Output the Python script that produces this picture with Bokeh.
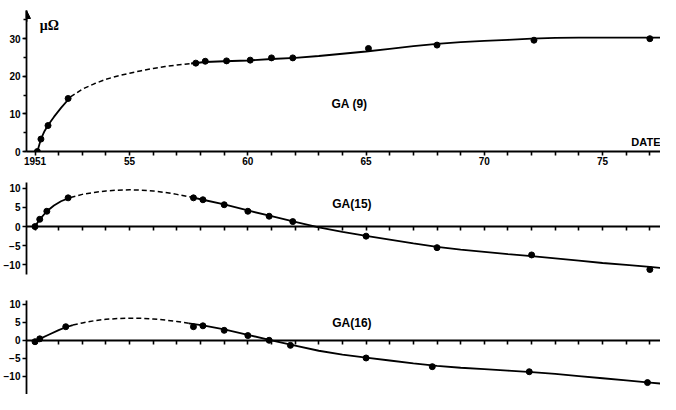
from bokeh.plotting import figure
from bokeh.layouts import column
from bokeh.models import (Range1d, FixedTicker, SingleIntervalTicker, Label, Arrow,
                          NormalHead, LinearAxis)
from bokeh.embed import file_html
from bokeh.resources import INLINE

# ---------------- data ----------------
years_axis = list(range(1951, 1978))
x_major = [1951, 1955, 1960, 1965, 1970, 1975]
x_tick_labels = ["1951", "55", "60", "65", "70", "75"]

# GA (9)
ga9_year = [1951.1, 1951.25, 1951.55, 1952.4, 1957.8, 1958.2, 1959.1, 1960.1, 1961.0, 1961.9, 1965.1, 1968.0, 1972.1, 1977.0]
ga9_val = [0.0, 3.3, 6.9, 14.1, 23.5, 24.0, 24.1, 24.3, 24.9, 24.9, 27.4, 28.3, 29.6, 30.0]
ga9_fit1_x = [1951.1, 1951.25, 1951.4, 1951.55, 1951.8, 1952.1, 1952.5]
ga9_fit1_y = [0.0, 3.3, 5.4, 7.0, 9.2, 11.6, 14.5]
ga9_dash_x = [1952.5, 1953.0, 1953.5, 1954.0, 1954.5, 1955.0, 1955.5, 1956.0, 1956.5, 1957.0, 1957.6]
ga9_dash_y = [14.5, 16.6, 18.0, 19.2, 20.1, 20.8, 21.5, 22.1, 22.6, 23.0, 23.4]
ga9_fit2_x = [1957.6, 1958.2, 1959, 1960, 1961, 1962, 1963, 1964, 1965, 1966, 1967, 1968, 1969, 1970, 1971, 1972, 1973, 1974, 1975, 1976, 1977.5]
ga9_fit2_y = [23.4, 23.8, 24.0, 24.2, 24.6, 24.9, 25.4, 26.0, 26.6, 27.3, 28.0, 28.6, 29.1, 29.4, 29.7, 30.0, 30.2, 30.3, 30.3, 30.3, 30.3]

# GA (15)
ga15_year = [1951.0, 1951.2, 1951.5, 1952.4, 1957.7, 1958.1, 1959.0, 1960.0, 1960.9, 1961.9, 1965.0, 1968.0, 1972.0, 1977.0]
ga15_val = [0.0, 1.9, 4.0, 7.5, 7.5, 7.0, 5.7, 4.0, 2.7, 1.3, -2.5, -5.5, -7.4, -11.2]
ga15_fit1_x = [1951.0, 1951.2, 1951.5, 1951.8, 1952.1, 1952.5]
ga15_fit1_y = [0.0, 1.9, 4.0, 5.5, 6.6, 7.6]
ga15_dash_x = [1952.5, 1953.0, 1953.5, 1954.0, 1954.5, 1955.0, 1955.5, 1956.0, 1956.5, 1957.0, 1957.6]
ga15_dash_y = [7.6, 8.4, 8.9, 9.3, 9.5, 9.6, 9.5, 9.3, 8.9, 8.4, 7.7]
ga15_fit2_x = [1957.6, 1958.1, 1959, 1960, 1961, 1962, 1963, 1964, 1965, 1966, 1967, 1968, 1969, 1970, 1971, 1972, 1973, 1974, 1975, 1976, 1977, 1977.5]
ga15_fit2_y = [7.7, 7.0, 5.8, 4.2, 2.7, 1.2, -0.2, -1.4, -2.4, -3.4, -4.4, -5.3, -6.0, -6.6, -7.2, -7.7, -8.3, -8.9, -9.5, -10.0, -10.5, -10.8]

# GA (16)
ga16_year = [1951.0, 1951.2, 1952.3, 1957.7, 1958.1, 1959.0, 1960.0, 1960.9, 1961.8, 1965.0, 1967.8, 1971.9, 1976.9]
ga16_val = [-0.4, 0.4, 3.75, 3.75, 4.0, 2.75, 1.3, 0.0, -1.4, -4.9, -7.3, -8.7, -11.7]
ga16_fit1_x = [1951.0, 1951.2, 1951.6, 1952.0, 1952.3, 1952.6]
ga16_fit1_y = [-0.2, 0.4, 1.6, 2.8, 3.6, 4.2]
ga16_dash_x = [1952.6, 1953.0, 1953.5, 1954.0, 1954.5, 1955.0, 1955.5, 1956.0, 1956.5, 1957.0, 1957.5]
ga16_dash_y = [4.2, 4.8, 5.4, 5.8, 6.0, 6.1, 6.1, 5.9, 5.6, 5.2, 4.7]
ga16_fit2_x = [1957.5, 1958.1, 1959, 1960, 1961, 1962, 1963, 1964, 1965, 1966, 1967, 1968, 1969, 1970, 1971, 1972, 1973, 1974, 1975, 1976, 1977, 1977.5]
ga16_fit2_y = [4.7, 4.1, 3.0, 1.5, 0.0, -1.5, -2.9, -4.0, -4.8, -5.6, -6.4, -7.1, -7.6, -8.0, -8.4, -8.8, -9.3, -9.9, -10.5, -11.1, -11.7, -12.0]

# ---------------- styling ----------------
FONT = "Liberation Sans"
X0, X1 = 1950.64, 1977.45
W = 660
LEFT = 22


def base_fig(height, y0, y1, top, bottom):
    p = figure(width=W, height=height, x_range=Range1d(X0, X1), y_range=Range1d(y0, y1),
               output_backend="svg", toolbar_location=None,
               x_axis_type=None, y_axis_type=None,
               min_border_left=LEFT, min_border_right=0,
               min_border_top=top, min_border_bottom=bottom)
    p.outline_line_color = None
    p.xgrid.visible = False
    p.ygrid.visible = False
    p.background_fill_color = "white"
    return p


def style_axis(ax):
    ax.axis_line_color = "black"
    ax.axis_line_width = 1.8
    ax.major_tick_line_color = "black"
    ax.minor_tick_line_color = "black"
    ax.major_tick_line_width = 1.6
    ax.minor_tick_line_width = 1.6
    ax.major_tick_in = 0
    ax.minor_tick_in = 0
    ax.major_label_text_font = FONT
    ax.major_label_text_font_style = "bold"
    ax.major_label_text_font_size = "10px"
    ax.major_label_text_color = "black"


def add_x_axis(p, labels):
    ticker = FixedTicker(ticks=years_axis)
    if labels:
        ax = LinearAxis(ticker=ticker)
    else:
        ax = LinearAxis(fixed_location=0, ticker=ticker)
    style_axis(ax)
    ax.major_tick_out = 4
    ax.minor_tick_out = 0
    ax.major_label_standoff = 1
    if labels:
        lab = {t: "" for t in years_axis}
        lab.update({t: s for t, s in zip(x_major, x_tick_labels)})
        ax.major_label_overrides = lab
    else:
        ax.major_label_text_color = None
    p.add_layout(ax, "below")


def add_y_axis(p, ticker):
    ax = LinearAxis(ticker=ticker)
    style_axis(ax)
    ax.major_tick_out = 4
    ax.minor_tick_out = 3
    ax.major_label_standoff = 2
    p.add_layout(ax, "left")


def draw_series(p, px, py, f1x, f1y, dx, dy, f2x, f2y):
    p.line(f1x, f1y, line_color="black", line_width=1.8)
    p.line(dx, dy, line_color="black", line_width=1.5, line_dash="5 3")
    p.line(f2x, f2y, line_color="black", line_width=1.8)
    p.scatter(px, py, size=6, marker="circle", fill_color="black", line_color="black")


def add_text(p, x, y, txt, size="12px", align="center", baseline="middle", font=FONT):
    p.add_layout(Label(x=x, y=y, text=txt, text_font=font, text_font_style="bold",
                       text_font_size=size, text_align=align, text_baseline=baseline,
                       text_color="black"))


# ---------------- panel 1 : GA (9) ----------------
p1 = base_fig(176, 0, 37.5, 10, 25)
add_y_axis(p1, SingleIntervalTicker(interval=10, num_minor_ticks=2))
add_x_axis(p1, True)
p1.add_layout(Arrow(end=NormalHead(size=8, fill_color="black", line_color="black"),
                    line_color="black", line_width=1.8,
                    x_start=X0, y_start=34.5, x_end=X0, y_end=37.5))
draw_series(p1, ga9_year, ga9_val, ga9_fit1_x, ga9_fit1_y, ga9_dash_x, ga9_dash_y,
            ga9_fit2_x, ga9_fit2_y)
add_text(p1, 1964.3, 12.6, "GA (9)")
add_text(p1, 1951.2, 33.6, "\u03bc\u03a9", size="14px", align="left", font="Liberation Serif")
add_text(p1, X1, 0.9, "DATE", size="11px", align="right", baseline="bottom")

# ---------------- panel 2 : GA (15) ----------------
p2 = base_fig(116, -12.5, 11.5, 6, 18)
add_y_axis(p2, FixedTicker(ticks=[-10, -5, 0, 5, 10]))
add_x_axis(p2, False)
draw_series(p2, ga15_year, ga15_val, ga15_fit1_x, ga15_fit1_y, ga15_dash_x, ga15_dash_y,
            ga15_fit2_x, ga15_fit2_y)
add_text(p2, 1964.4, 5.8, "GA(15)")

# ---------------- panel 3 : GA (16) ----------------
p3 = base_fig(102, -15.0, 11.0, 8, 0)
add_y_axis(p3, FixedTicker(ticks=[-10, -5, 0, 5, 10]))
add_x_axis(p3, False)
draw_series(p3, ga16_year, ga16_val, ga16_fit1_x, ga16_fit1_y, ga16_dash_x, ga16_dash_y,
            ga16_fit2_x, ga16_fit2_y)
add_text(p3, 1964.4, 4.8, "GA(16)")

layout = column(p1, p2, p3, spacing=0)

with open("out.html", "w") as f:
    f.write(file_html(layout, INLINE))
